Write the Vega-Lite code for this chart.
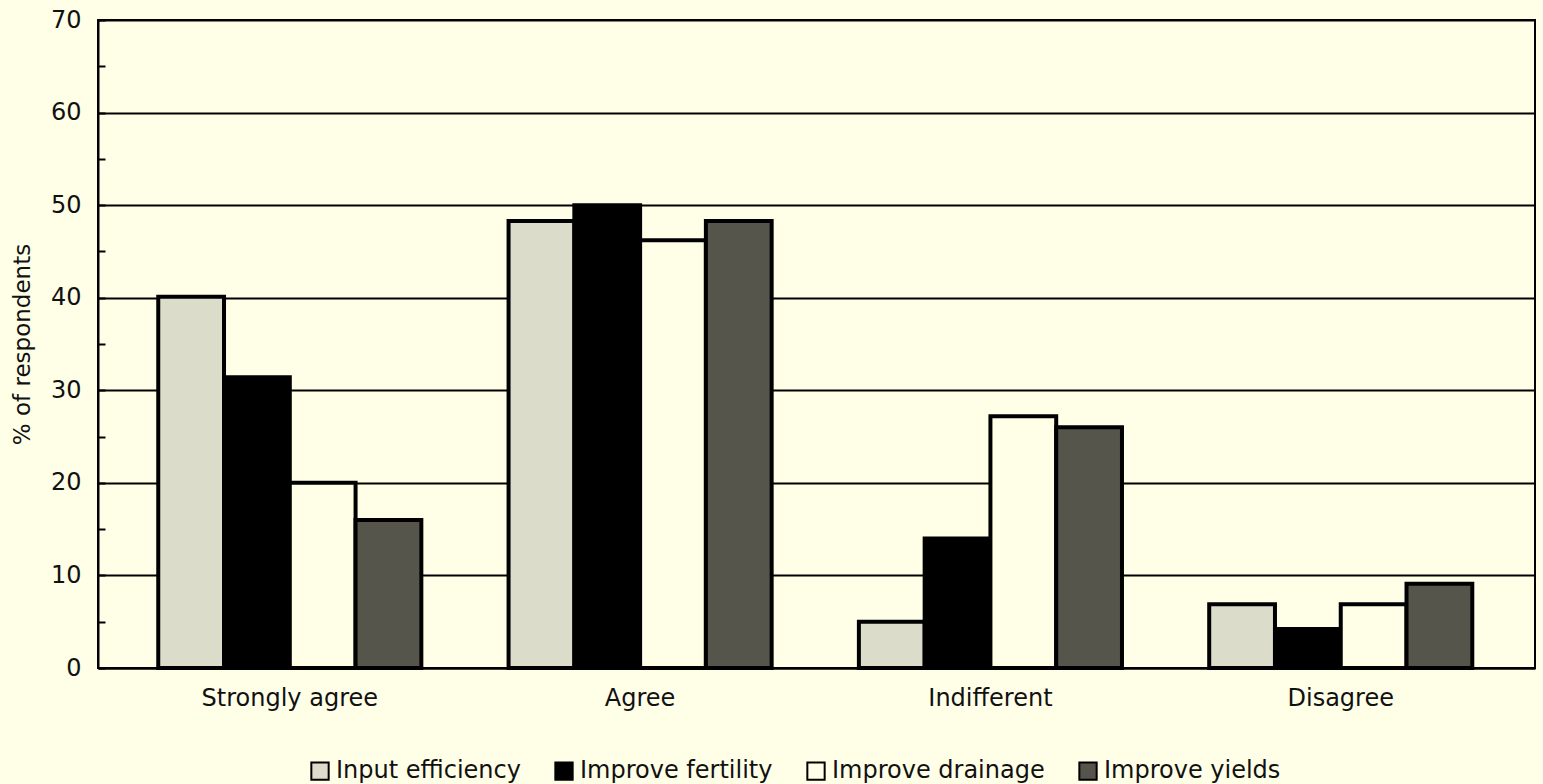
{
  "$schema": "https://vega.github.io/schema/vega-lite/v6.json",
  "autosize": "none",
  "width": 1437,
  "height": 648,
  "padding": {"left": 98, "top": 20, "right": 8, "bottom": 116},
  "background": "#FFFFE8",
  "config": {
    "font": "DejaVu Sans",
    "view": {"stroke": "#000000", "strokeWidth": 2, "fill": "#FFFFE8"},
    "axis": {"labelColor": "#111111", "titleColor": "#111111", "labelFont": "DejaVu Sans", "titleFont": "DejaVu Sans", "titleFontWeight": "normal"}
  },
  "data": {
    "values": [
      {"response": "Strongly agree", "purpose": "Input efficiency", "pct": 40.1},
      {"response": "Strongly agree", "purpose": "Improve fertility", "pct": 31.4},
      {"response": "Strongly agree", "purpose": "Improve drainage", "pct": 20.0},
      {"response": "Strongly agree", "purpose": "Improve yields", "pct": 16.0},
      {"response": "Agree", "purpose": "Input efficiency", "pct": 48.3},
      {"response": "Agree", "purpose": "Improve fertility", "pct": 50.0},
      {"response": "Agree", "purpose": "Improve drainage", "pct": 46.2},
      {"response": "Agree", "purpose": "Improve yields", "pct": 48.3},
      {"response": "Indifferent", "purpose": "Input efficiency", "pct": 5.0},
      {"response": "Indifferent", "purpose": "Improve fertility", "pct": 14.0},
      {"response": "Indifferent", "purpose": "Improve drainage", "pct": 27.2},
      {"response": "Indifferent", "purpose": "Improve yields", "pct": 26.0},
      {"response": "Disagree", "purpose": "Input efficiency", "pct": 6.9},
      {"response": "Disagree", "purpose": "Improve fertility", "pct": 4.2},
      {"response": "Disagree", "purpose": "Improve drainage", "pct": 6.9},
      {"response": "Disagree", "purpose": "Improve yields", "pct": 9.1}
    ]
  },
  "mark": {"type": "bar", "stroke": "#000000", "strokeWidth": 4, "strokeJoin": "miter"},
  "encoding": {
    "x": {
      "field": "response",
      "type": "nominal",
      "sort": ["Strongly agree", "Agree", "Indifferent", "Disagree"],
      "scale": {"paddingInner": 0.249, "paddingOuter": 0.1755, "align": 0.49},
      "axis": {"title": null, "labelAngle": 0, "ticks": false, "labelFontSize": 24, "labelPadding": 18, "domainColor": "#000000", "domainWidth": 2}
    },
    "xOffset": {
      "field": "purpose",
      "type": "nominal",
      "sort": ["Input efficiency", "Improve fertility", "Improve drainage", "Improve yields"],
      "scale": {"paddingInner": 0, "paddingOuter": 0}
    },
    "y": {
      "field": "pct",
      "type": "quantitative",
      "scale": {"domain": [0, 70], "nice": false},
      "axis": {
        "title": "% of respondents",
        "titleFontSize": 23,
        "titlePadding": 16,
        "values": [0, 5, 10, 15, 20, 25, 30, 35, 40, 45, 50, 55, 60, 65, 70],
        "labelExpr": "datum.value % 10 == 0 ? datum.label : ''",
        "labelFontSize": 24,
        "labelPadding": 24,
        "tickSize": -7,
        "tickColor": "#000000",
        "tickWidth": 2,
        "domainColor": "#000000",
        "domainWidth": 2,
        "grid": true,
        "gridColor": "#000000",
        "gridWidth": 2,
        "gridOpacity": {"condition": {"test": "datum.value % 10 == 0", "value": 1}, "value": 0}
      }
    },
    "fill": {
      "field": "purpose",
      "type": "nominal",
      "sort": ["Input efficiency", "Improve fertility", "Improve drainage", "Improve yields"],
      "scale": {
        "domain": ["Input efficiency", "Improve fertility", "Improve drainage", "Improve yields"],
        "range": ["#DCDCCA", "#000000", "#FFFFE8", "#55554C"]
      },
      "legend": {
        "title": null,
        "orient": "none",
        "legendX": 210,
        "legendY": 739,
        "direction": "horizontal",
        "symbolType": "square",
        "symbolSize": 300,
        "symbolStrokeColor": "#000000",
        "symbolStrokeWidth": 2,
        "labelFontSize": 24,
        "labelColor": "#111111",
        "labelFont": "DejaVu Sans",
        "labelLimit": 0,
        "labelOffset": 4,
        "columnPadding": 30
      }
    }
  }
}
